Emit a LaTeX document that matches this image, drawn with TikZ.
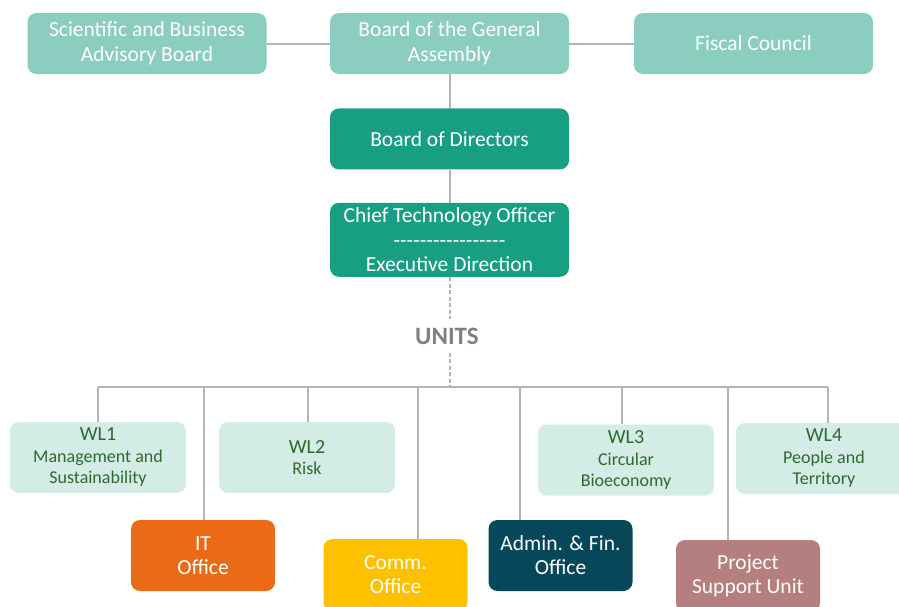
\documentclass[tikz,border=0pt]{standalone}
\usepackage{fontspec}
\setmainfont{Carlito}
\usepackage{tikz}
\usetikzlibrary{positioning}
\definecolor{boardlight}{RGB}{139,205,191}
\definecolor{boardteal}{RGB}{24,158,130}
\definecolor{wlfill}{RGB}{211,236,230}
\definecolor{wltext}{RGB}{46,105,48}
\definecolor{itorange}{RGB}{234,106,22}
\definecolor{commyellow}{RGB}{255,192,0}
\definecolor{adminblue}{RGB}{7,71,90}
\definecolor{psurose}{RGB}{180,127,126}
\definecolor{linegray}{RGB}{180,180,180}
\definecolor{unitsgray}{RGB}{128,128,128}
\tikzset{board/.style={rectangle,rounded corners=9pt,fill=boardlight,text=white,minimum width=239pt,minimum height=61pt,align=center,font=\fontsize{21.5}{24.5}\selectfont}}
\tikzset{direction/.style={board,fill=boardteal}}
\tikzset{wl/.style={rectangle,rounded corners=9pt,fill=wlfill,text=wltext,minimum width=176pt,minimum height=71pt,align=center,font=\fontsize{18}{21.5}\selectfont}}
\tikzset{office/.style={rectangle,rounded corners=9pt,text=white,minimum width=144pt,minimum height=71pt,align=center,font=\fontsize{21.5}{24}\selectfont}}
\tikzset{link/.style={draw=linegray,line width=2pt}}
\newcommand{\wlhead}[1]{{\fontsize{20}{21.5}\selectfont #1}}
\newcommand{\hyphrow}{{-}{-}{-}{-}{-}{-}{-}{-}{-}{-}{-}{-}{-}{-}{-}{-}{-}}

\begin{document}
\begin{tikzpicture}[x=1pt,y=-1pt]
\useasboundingbox (0,0) rectangle (899,606);
% governing bodies
\node[board] (sab) at (147,43.5) {Scientific and Business\\Advisory Board};
\node[board] (bga) at (449.5,43.5) {Board of the General\\Assembly};
\node[board] (fiscal) at (753.5,43.5) {Fiscal Council};
\node[direction, below=34pt of bga] (bod) {Board of Directors};
\node[direction, minimum height=74pt, below=33pt of bod] (cto) {Chief Technology Officer\\\hyphrow\\Executive Direction};
\draw[link] (sab) -- (bga);
\draw[link] (bga) -- (fiscal);
\draw[link] (bga) -- (bod);
\draw[link] (bod) -- (cto);
\node[text=unitsgray, font=\fontsize{25}{27}\selectfont\bfseries, inner ysep=8.5pt] (units) at (447,336) {UNITS};
% units
\node[wl] (wl1) at (98,457.5) {\wlhead{WL1}\\Management and\\Sustainability};
\node[wl] (wl2) at (307,457.5) {\wlhead{WL2}\\Risk};
\node[wl] (wl3) at (626,460) {\wlhead{WL3}\\Circular\\Bioeconomy};
\node[wl] (wl4) at (824,458.5) {\wlhead{WL4}\\People and\\Territory};
\node[office, fill=itorange] (it) at (203,555.5) {IT\\Office};
\node[office, fill=commyellow, minimum height=72pt] (comm) at (395.5,575) {Comm.\\Office};
\node[office, fill=adminblue] (admin) at (560.5,555.5) {Admin. \& Fin.\\Office};
\node[office, fill=psurose, minimum height=72pt] (psu) at (748,576) {Project\\Support Unit};
\foreach \x/\n in {98/wl1,204/it,308/wl2,418/comm,520/admin,622/wl3,728/psu,828/wl4} {
	\coordinate (d\n) at (\x,387);
	\draw[link] (d\n) -- (d\n |- \n.north);
}
\draw[link] (dwl1) -- (dwl4);
\draw[link, dash pattern=on 4pt off 2.5pt] (cto) -- (cto |- units.north);
\draw[link, dash pattern=on 4pt off 2.5pt] (cto |- units.south) -- (cto |- dwl1);
\end{tikzpicture}
\end{document}
